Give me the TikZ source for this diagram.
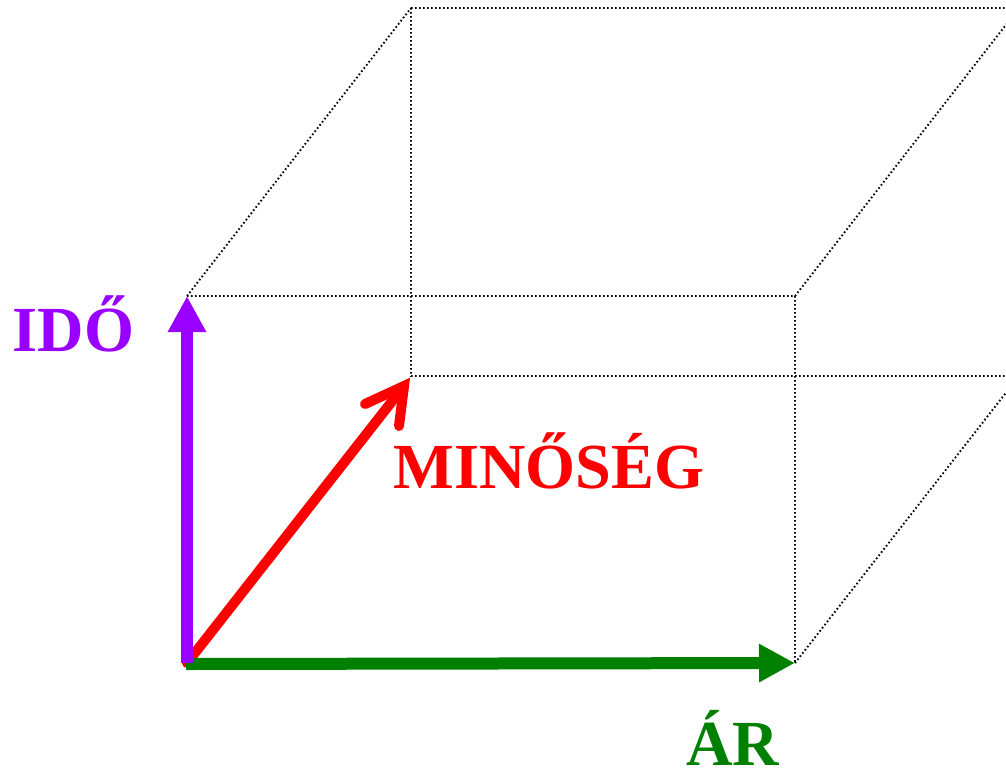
\documentclass[tikz,border=0pt]{standalone}
\usepackage{fontspec}
\setmainfont{Liberation Serif}
\usetikzlibrary{arrows.meta}
\definecolor{idocol}{RGB}{153,0,255}
\definecolor{arcol}{RGB}{0,128,0}
\definecolor{mincol}{RGB}{255,0,0}
\begin{document}
\begin{tikzpicture}[x=0.75pt,y=-0.75pt,line join=miter,
  every node/.style={font=\bfseries\fontsize{48.2}{50}\selectfont,inner sep=0pt},
  edge/.style={black,line width=1.4pt,dash pattern=on 1.2pt off 1.8pt},
  axis/.style={line width=9pt,-{Triangle[length=27pt,width=27pt]}}]
  \useasboundingbox (0,0) rectangle (1006,772);
  \clip (0,0) rectangle (1006,772);
  \coordinate (O) at (187,663);
  \coordinate (T) at (187,296);
  \coordinate (R) at (795,663);
  \coordinate (S) at (795,296);
  \coordinate (Q) at (411,376);
  \coordinate (P) at (411,8);
  \coordinate (U) at (1019,376);
  \coordinate (V) at (1019,8);
  \coordinate (K) at (404,386);
  \coordinate (K1) at (365,404);
  \coordinate (K2) at (399,426);
  \draw[edge] (T)--(S)--(R) (P)--(V) (P)--(Q)--(U) (T)--(P) (S)--(V) (R)--(U);
  \draw[mincol,line width=7.5pt,line cap=round] (O)--(K);
  \draw[mincol,line width=7.5pt,line cap=round,line join=miter] (K1)--(K)--(K2);
  \draw[axis,arcol] (186,664)--(R);
  \draw[axis,idocol] (O)--(T);
  \node[idocol,anchor=base] at (73.5,351) {IDŐ};
  \node[mincol,anchor=base] at (549,488) {MINŐSÉG};
  \node[arcol,anchor=base] at (732.5,765) {ÁR};
\end{tikzpicture}
\end{document}
